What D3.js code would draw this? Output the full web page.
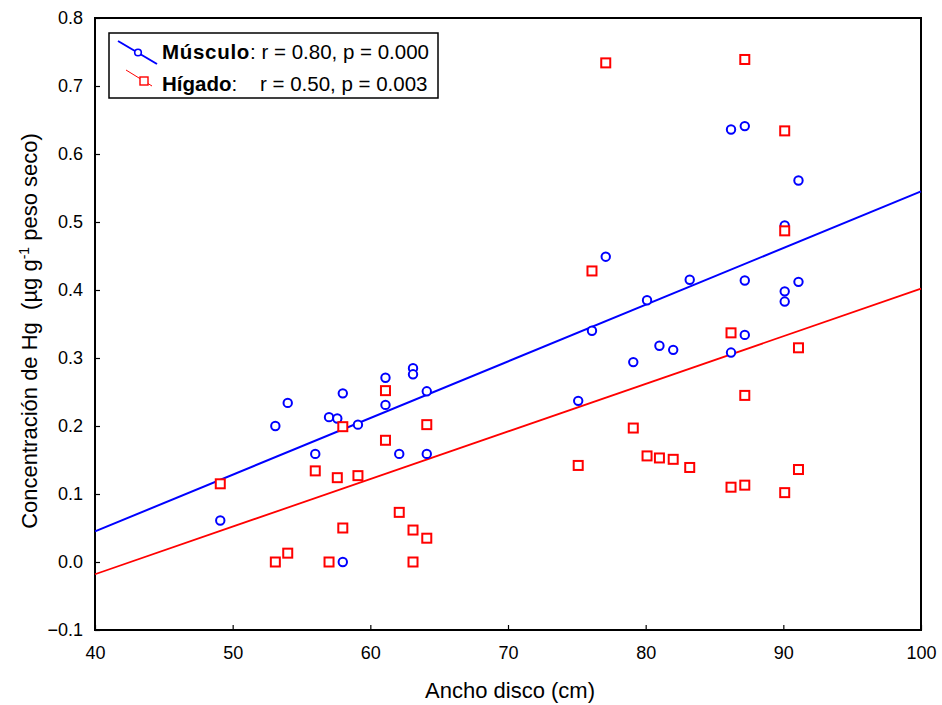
<!DOCTYPE html>
<html>
<head>
<meta charset="utf-8">
<script src="https://cdn.jsdelivr.net/npm/d3@7"></script>
<style>
  html, body { margin: 0; padding: 0; background: #fff; }
  svg { display: block; font-family: Arial, "Liberation Sans", sans-serif; }
</style>
</head>
<body>
<svg id="chart" width="942" height="705"></svg>
<script>
// ---- data ----
const anchoDisco = [49.1, 53.1, 54.0, 56.0, 57.0, 57.6, 58.0, 58.0, 59.1, 61.1, 61.1, 62.1, 63.1, 63.1, 64.1, 64.1,
  75.1, 76.1, 77.1, 79.1, 80.1, 81.0, 82.0, 83.2, 86.2, 86.2, 87.2, 87.2, 87.2, 90.1, 90.1, 90.1, 91.1, 91.1];
const musculo = [0.061, 0.200, 0.234, 0.159, 0.213, 0.211, 0.248, 0.000, 0.202, 0.271, 0.231, 0.159, 0.285, 0.276, 0.251, 0.159,
  0.237, 0.340, 0.449, 0.294, 0.385, 0.318, 0.312, 0.415, 0.636, 0.308, 0.641, 0.414, 0.334, 0.495, 0.398, 0.383, 0.561, 0.412];
const higado = [0.115, 0.000, 0.013, 0.134, 0.000, 0.124, 0.199, 0.050, 0.127, 0.252, 0.179, 0.073, 0.047, 0.000, 0.202, 0.035,
  0.142, 0.428, 0.734, 0.197, 0.156, 0.153, 0.151, 0.139, 0.337, 0.110, 0.739, 0.245, 0.113, 0.634, 0.487, 0.102, 0.315, 0.136];
const fitX = [40, 100];
const musculoFit = [0.045, 0.545];
const higadoFit = [-0.018, 0.402];
const xTicks = [40, 50, 60, 70, 80, 90, 100];
const yTicks = [-0.1, 0.0, 0.1, 0.2, 0.3, 0.4, 0.5, 0.6, 0.7, 0.8];
const legendMusculo = {name: "Músculo", stats: ": r = 0.80, p = 0.000"};
const legendHigado = {name: "Hígado", stats: ":    r = 0.50, p = 0.003"};

// ---- layout ----
const svg = d3.select("#chart");
const L = 95, R = 921, T = 18, B = 630;
const x = d3.scaleLinear().domain([40, 100]).range([L, R]);
const y = d3.scaleLinear().domain([-0.1, 0.8]).range([B, T]);
const blue = "#0000ff", red = "#ff0000";

// axes (ticks inward)
const xAxis = svg.append("g").attr("transform", `translate(0,${B})`)
  .call(d3.axisBottom(x).tickValues(xTicks).tickSizeInner(-5).tickSizeOuter(0).tickPadding(16).tickFormat(d3.format("d")));
const yAxis = svg.append("g").attr("transform", `translate(${L},0)`)
  .call(d3.axisLeft(y).tickValues(yTicks).tickSizeInner(-5).tickSizeOuter(0).tickPadding(12).tickFormat(d3.format(".1f")));
[xAxis, yAxis].forEach(g => {
  g.select(".domain").remove();
  g.selectAll(".tick line").attr("stroke", "#000").attr("stroke-width", 1.2);
  g.selectAll(".tick text").attr("font-size", 18).attr("fill", "#000")
    .attr("font-family", "Arial, 'Liberation Sans', sans-serif");
});

// frame
svg.append("rect").attr("x", L).attr("y", T).attr("width", R - L).attr("height", B - T)
  .attr("fill", "none").attr("stroke", "#000").attr("stroke-width", 2);

// regression lines
const line = d3.line().x(d => x(d[0])).y(d => y(d[1]));
svg.append("path").datum(fitX.map((v, i) => [v, musculoFit[i]]))
  .attr("d", line).attr("fill", "none").attr("stroke", blue).attr("stroke-width", 2);
svg.append("path").datum(fitX.map((v, i) => [v, higadoFit[i]]))
  .attr("d", line).attr("fill", "none").attr("stroke", red).attr("stroke-width", 1.8);

// points
svg.append("g").selectAll("circle").data(anchoDisco.map((v, i) => [v, musculo[i]])).join("circle")
  .attr("cx", d => x(d[0])).attr("cy", d => y(d[1])).attr("r", 4.2)
  .attr("fill", "#fff").attr("stroke", blue).attr("stroke-width", 2);
const sq = 9;
svg.append("g").selectAll("rect").data(anchoDisco.map((v, i) => [v, higado[i]])).join("rect")
  .attr("x", d => x(d[0]) - sq / 2).attr("y", d => y(d[1]) - sq / 2).attr("width", sq).attr("height", sq)
  .attr("fill", "#fff").attr("stroke", red).attr("stroke-width", 2);

// axis titles
svg.append("text").attr("x", 510).attr("y", 698).attr("text-anchor", "middle")
  .attr("font-size", 22).text("Ancho disco (cm)");
const yt = svg.append("text").attr("transform", "translate(37,331) rotate(-90)")
  .attr("text-anchor", "middle").attr("font-size", 22)
  .attr("xml:space", "preserve").style("white-space", "pre");
yt.append("tspan").text("Concentración de Hg  (µg g");
yt.append("tspan").attr("dy", -8).attr("font-size", 14).text("-1");
yt.append("tspan").attr("dy", 8).text(" peso seco)");

// legend
const lg = svg.append("g");
lg.append("rect").attr("x", 109).attr("y", 33).attr("width", 329).attr("height", 65)
  .attr("fill", "#fff").attr("stroke", "#000").attr("stroke-width", 1.5);
lg.append("line").attr("x1", 118).attr("y1", 41).attr("x2", 157).attr("y2", 64)
  .attr("stroke", blue).attr("stroke-width", 2);
lg.append("circle").attr("cx", 138).attr("cy", 52.5).attr("r", 3.3)
  .attr("fill", "#fff").attr("stroke", blue).attr("stroke-width", 1.6);
lg.append("line").attr("x1", 126).attr("y1", 70).attr("x2", 152).attr("y2", 86)
  .attr("stroke", red).attr("stroke-width", 1);
lg.append("rect").attr("x", 140).attr("y", 77).attr("width", 8).attr("height", 8)
  .attr("fill", "#fff").attr("stroke", red).attr("stroke-width", 1.4);

const t1 = lg.append("text").attr("x", 162).attr("y", 58.5).attr("font-size", 20.5).attr("fill", "#000");
t1.append("tspan").attr("font-weight", "bold").attr("letter-spacing", 0.7).text(legendMusculo.name);
t1.append("tspan").text(legendMusculo.stats);
const t2 = lg.append("text").attr("x", 162).attr("y", 91).attr("font-size", 20.5).attr("fill", "#000")
  .attr("xml:space", "preserve").style("white-space", "pre");
t2.append("tspan").attr("font-weight", "bold").text(legendHigado.name);
t2.append("tspan").text(legendHigado.stats);
</script>
</body>
</html>
